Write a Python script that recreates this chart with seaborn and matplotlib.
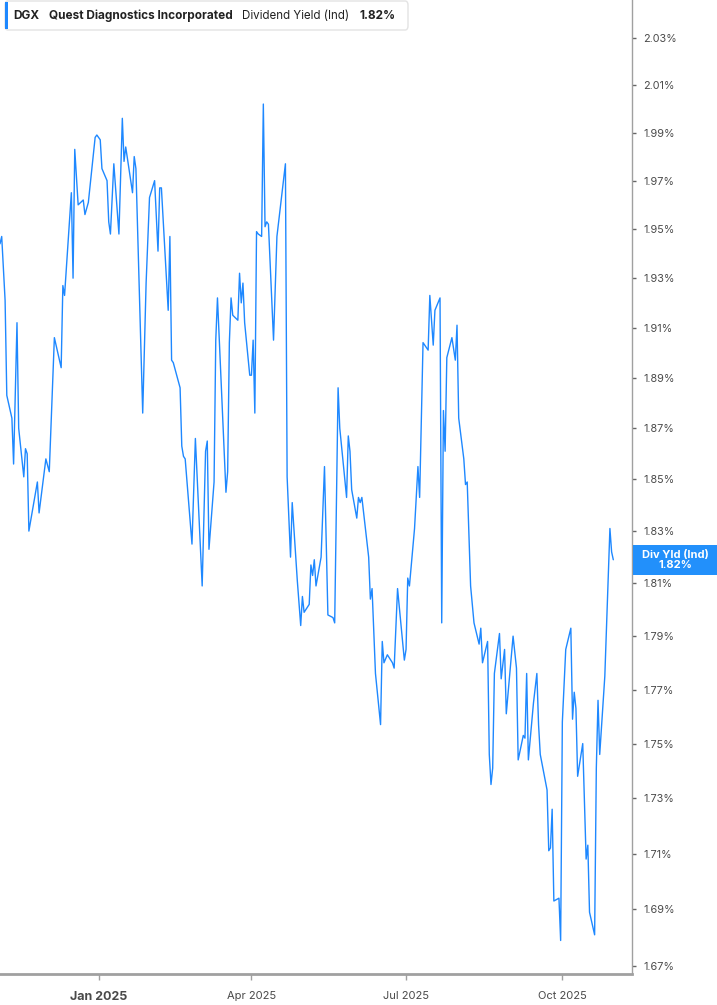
import matplotlib
matplotlib.use("Agg")
import matplotlib.pyplot as plt
from matplotlib.patches import FancyBboxPatch, Rectangle
from matplotlib.ticker import NullLocator, FixedLocator, FixedFormatter
import pandas as pd
import seaborn as sns

# --- data ---
ticker = "DGX"
company = "Quest Diagnostics Incorporated"
metric = "Dividend Yield (Ind)"
short_metric = "Div Yld (Ind)"

dates = [
    "2024-11-04", "2024-11-05", "2024-11-07", "2024-11-08", "2024-11-11", "2024-11-12",
    "2024-11-14", "2024-11-15", "2024-11-18", "2024-11-19", "2024-11-20", "2024-11-21",
    "2024-11-26", "2024-11-27", "2024-12-01", "2024-12-03", "2024-12-06", "2024-12-10",
    "2024-12-11", "2024-12-12", "2024-12-16", "2024-12-17", "2024-12-18", "2024-12-20",
    "2024-12-23", "2024-12-24", "2024-12-26", "2024-12-30", "2024-12-31", "2025-01-02",
    "2025-01-03", "2025-01-06", "2025-01-07", "2025-01-08", "2025-01-10", "2025-01-13",
    "2025-01-15", "2025-01-16", "2025-01-17", "2025-01-21", "2025-01-22", "2025-01-23",
    "2025-01-27", "2025-01-29", "2025-01-31", "2025-02-03", "2025-02-05", "2025-02-06",
    "2025-02-07", "2025-02-11", "2025-02-12", "2025-02-13", "2025-02-14", "2025-02-18",
    "2025-02-19", "2025-02-20", "2025-02-21", "2025-02-25", "2025-02-27", "2025-03-03",
    "2025-03-05", "2025-03-06", "2025-03-07", "2025-03-10", "2025-03-11", "2025-03-12",
    "2025-03-17", "2025-03-18", "2025-03-19", "2025-03-20", "2025-03-21", "2025-03-24",
    "2025-03-25", "2025-03-26", "2025-03-27", "2025-03-28", "2025-03-31", "2025-04-01",
    "2025-04-02", "2025-04-03", "2025-04-04", "2025-04-05", "2025-04-07", "2025-04-08",
    "2025-04-09", "2025-04-10", "2025-04-11", "2025-04-14", "2025-04-16", "2025-04-21",
    "2025-04-22", "2025-04-24", "2025-04-25", "2025-04-28", "2025-04-30", "2025-05-01",
    "2025-05-02", "2025-05-05", "2025-05-06", "2025-05-07", "2025-05-08", "2025-05-09",
    "2025-05-12", "2025-05-14", "2025-05-16", "2025-05-19", "2025-05-20", "2025-05-22",
    "2025-05-23", "2025-05-27", "2025-05-28", "2025-05-29", "2025-05-30", "2025-06-02",
    "2025-06-03", "2025-06-04", "2025-06-05", "2025-06-09", "2025-06-10", "2025-06-11",
    "2025-06-13", "2025-06-16", "2025-06-17", "2025-06-18", "2025-06-20", "2025-06-23",
    "2025-06-24", "2025-06-26", "2025-06-30", "2025-07-01", "2025-07-02", "2025-07-03",
    "2025-07-06", "2025-07-08", "2025-07-09", "2025-07-11", "2025-07-14", "2025-07-15",
    "2025-07-17", "2025-07-18", "2025-07-21", "2025-07-22", "2025-07-23", "2025-07-24",
    "2025-07-25", "2025-07-28", "2025-07-30", "2025-07-31", "2025-08-01", "2025-08-04",
    "2025-08-05", "2025-08-06", "2025-08-08", "2025-08-10", "2025-08-13", "2025-08-14",
    "2025-08-15", "2025-08-18", "2025-08-19", "2025-08-20", "2025-08-21", "2025-08-22",
    "2025-08-25", "2025-08-26", "2025-08-28", "2025-08-29", "2025-09-02", "2025-09-04",
    "2025-09-05", "2025-09-08", "2025-09-09", "2025-09-10", "2025-09-11", "2025-09-14",
    "2025-09-16", "2025-09-17", "2025-09-18", "2025-09-22", "2025-09-23", "2025-09-24",
    "2025-09-25", "2025-09-26", "2025-09-29", "2025-09-30", "2025-10-01", "2025-10-03",
    "2025-10-06", "2025-10-07", "2025-10-08", "2025-10-09", "2025-10-10", "2025-10-13",
    "2025-10-15", "2025-10-16", "2025-10-17", "2025-10-20", "2025-10-21", "2025-10-22",
    "2025-10-23", "2025-10-26", "2025-10-29", "2025-10-30", "2025-10-31",
]

div_yield = [
    1.944, 1.947, 1.921, 1.883, 1.874, 1.856,
    1.912, 1.870, 1.851, 1.862, 1.860, 1.830,
    1.849, 1.837, 1.858, 1.853, 1.906, 1.894,
    1.927, 1.923, 1.965, 1.930, 1.983, 1.960,
    1.962, 1.956, 1.961, 1.988, 1.989, 1.987,
    1.975, 1.970, 1.953, 1.948, 1.977, 1.948,
    1.996, 1.978, 1.984, 1.965, 1.980, 1.975,
    1.876, 1.928, 1.963, 1.970, 1.941, 1.967,
    1.967, 1.917, 1.947, 1.897, 1.896, 1.886,
    1.863, 1.859, 1.858, 1.825, 1.866, 1.809,
    1.861, 1.865, 1.823, 1.849, 1.905, 1.922,
    1.845, 1.853, 1.904, 1.922, 1.915, 1.913,
    1.932, 1.920, 1.928, 1.912, 1.891, 1.891,
    1.905, 1.876, 1.949, 1.948, 1.947, 2.002,
    1.951, 1.953, 1.952, 1.905, 1.947, 1.977,
    1.851, 1.820, 1.841, 1.811, 1.794, 1.805,
    1.799, 1.802, 1.817, 1.813, 1.819, 1.809,
    1.820, 1.855, 1.798, 1.797, 1.795, 1.886,
    1.870, 1.843, 1.867, 1.861, 1.846, 1.835,
    1.843, 1.841, 1.843, 1.820, 1.804, 1.808,
    1.776, 1.757, 1.788, 1.780, 1.783, 1.780,
    1.778, 1.808, 1.781, 1.785, 1.812, 1.809,
    1.831, 1.855, 1.843, 1.904, 1.901, 1.923,
    1.903, 1.917, 1.922, 1.795, 1.877, 1.861,
    1.898, 1.906, 1.897, 1.911, 1.874, 1.858,
    1.848, 1.849, 1.809, 1.795, 1.787, 1.793,
    1.780, 1.788, 1.746, 1.735, 1.741, 1.776,
    1.791, 1.774, 1.785, 1.761, 1.790, 1.778,
    1.744, 1.753, 1.752, 1.776, 1.744, 1.765,
    1.776, 1.757, 1.746, 1.733, 1.711, 1.712,
    1.726, 1.693, 1.694, 1.679, 1.758, 1.785,
    1.793, 1.759, 1.769, 1.763, 1.738, 1.750,
    1.708, 1.713, 1.689, 1.681, 1.741, 1.766,
    1.746, 1.775, 1.831, 1.822, 1.819,
]

ytick_values = [1.67, 1.69, 1.71, 1.73, 1.75, 1.77, 1.79, 1.81, 1.83, 1.85,
                1.87, 1.89, 1.91, 1.93, 1.95, 1.97, 1.99, 2.01, 2.03]
xtick_dates = ["2025-01-01", "2025-04-01", "2025-07-01", "2025-10-01"]
xtick_labels = ["Jan 2025", "Apr 2025", "Jul 2025", "Oct 2025"]

df = pd.DataFrame({"date": pd.to_datetime(dates), "yield": div_yield})

# --- style ---
LINE = "#1e88ff"
TAG = "#2290fb"
TEXT = "#4a4a4a"
AXIS = "#a0a0a0"
W, H = 717, 1005

sns.set_theme(style="white")
plt.rcParams["font.family"] = ["Inter", "DejaVu Sans"]

fig = plt.figure(figsize=(W / 100, H / 100), dpi=100)
ax = fig.add_axes([0.0, 31 / H, 632 / W, 974 / H])

sns.lineplot(data=df, x="date", y="yield", ax=ax, color=LINE, linewidth=1.0)

ax.set_yscale("log")
ax.set_ylim(1.6672, 2.0463)
ax.set_xlim(pd.Timestamp("2024-11-04"), pd.Timestamp("2025-11-11"))

# y axis on the right, percent labels
ax.yaxis.tick_right()
ax.yaxis.set_major_locator(FixedLocator(ytick_values))
ax.yaxis.set_major_formatter(FixedFormatter([f"{v:.2f}%" for v in ytick_values]))
ax.yaxis.set_minor_locator(NullLocator())
ax.tick_params(axis="y", which="major", length=3, width=1, color="#666666",
               labelsize=7.8, labelcolor=TEXT, pad=5, right=True, left=False)

# x axis, quarterly ticks
ax.set_xticks(pd.to_datetime(xtick_dates))
ax.set_xticklabels(xtick_labels)
ax.xaxis.set_minor_locator(NullLocator())
ax.tick_params(axis="x", which="major", length=4, width=1, color=AXIS,
               labelsize=8, labelcolor=TEXT, pad=8, bottom=True)
for lab in ax.get_xticklabels():
    if lab.get_text().startswith("Jan"):
        lab.set_fontweight("bold")
        lab.set_fontsize(9)

ax.set_xlabel("")
ax.set_ylabel("")
for side in ["left", "top"]:
    ax.spines[side].set_visible(False)
ax.spines["right"].set_color(AXIS)
ax.spines["right"].set_linewidth(1)
ax.spines["bottom"].set_color(AXIS)
ax.spines["bottom"].set_linewidth(2)

# last value tag on the right axis, centred on the last point's height
last_val = df["yield"].iloc[-1]
_, y_disp = ax.transData.transform((ax.get_xlim()[1], last_val))
y_fig = y_disp / H
fig.patches.append(Rectangle((633 / W, y_fig - 15 / H), 84 / W, 30 / H,
                             transform=fig.transFigure, fc=TAG, ec="none",
                             zorder=5))
fig.text(675 / W, y_fig, f"{short_metric}\n{last_val:.2f}%", ha="center",
         va="center", ma="center", fontsize=8, fontweight="bold",
         color="white", linespacing=1.05, zorder=6)

# header box at top-left
hdr = FancyBboxPatch((5 / W, 1 - 30 / H), 403 / W, 29 / H,
                     boxstyle="round,pad=0,rounding_size=0.004",
                     transform=fig.transFigure, fc="white", ec="#e3e3e3",
                     lw=1, zorder=5)
fig.patches.append(hdr)
fig.patches.append(Rectangle((5 / W, 1 - 29 / H), 3 / W, 27 / H,
                             transform=fig.transFigure, fc=LINE, ec="none",
                             zorder=6))
ty = 1 - 16 / H
fig.text(13 / W, ty, ticker, fontsize=8.5, fontweight="bold", color="#222222",
         va="center", zorder=7)
fig.text(49 / W, ty, company, fontsize=8.5, fontweight="bold", color="#222222",
         va="center", zorder=7)
fig.text(242 / W, ty, metric, fontsize=8.3, color="#222222", va="center", zorder=7)
fig.text(359 / W, ty, f"{last_val:.2f}%", fontsize=8.5, fontweight="bold",
         color="#222222", va="center", zorder=7)

fig.savefig("out.png", dpi=100, facecolor="white")
